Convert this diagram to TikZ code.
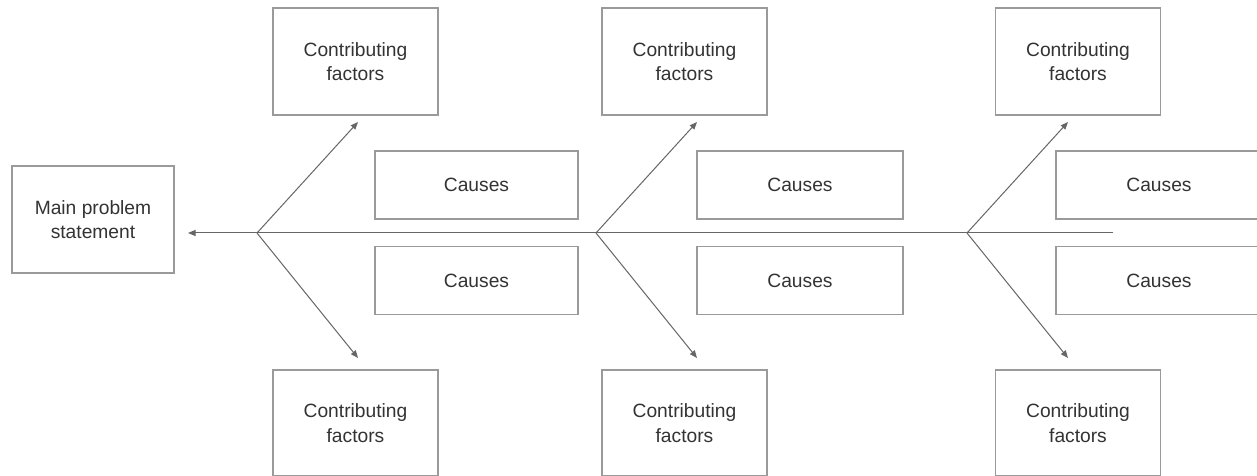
\documentclass[tikz,border=0pt]{standalone}
\usepackage{fontspec}
\setmainfont{Liberation Sans}
\usetikzlibrary{arrows.meta}
\definecolor{boxgray}{HTML}{9A9A9A}
\definecolor{linegray}{HTML}{666666}
\definecolor{textgray}{HTML}{333333}
\begin{document}
\begin{tikzpicture}[x=1bp,y=-1bp,
  box/.style={draw=boxgray, line width=1.3bp, minimum width=165bp, minimum height=107bp,
    align=center, inner sep=0pt, text=textgray, font=\fontsize{19.3}{24.5}\selectfont},
  causebox/.style={box, minimum width=203bp, minimum height=68bp},
  link/.style={draw=linegray, line width=1bp, -{Triangle[length=7.5bp,width=6bp]}}]
\useasboundingbox[fill=white] (0,0) rectangle (1257,476);
% boxes
\node[box, minimum width=162bp] (main) at (93,219.5) {Main problem\\statement};
\node[box] (t1) at (355.5,61.5) {Contributing\\factors};
\node[box] (t2) at (684.5,61.5) {Contributing\\factors};
\node[box] (t3) at (1078,61.5) {Contributing\\factors};
\node[box, minimum height=106bp] (b1) at (355.5,423) {Contributing\\factors};
\node[box, minimum height=106bp] (b2) at (684.5,423) {Contributing\\factors};
\node[box, minimum height=106bp] (b3) at (1078,423) {Contributing\\factors};
\node[causebox] (c1u) at (476.5,185) {Causes};
\node[causebox] (c1l) at (476.5,280.5) {Causes};
\node[causebox, minimum width=206bp] (c2u) at (800,185) {Causes};
\node[causebox, minimum width=206bp] (c2l) at (800,280.5) {Causes};
\node[causebox, minimum width=206bp] (c3u) at (1159,185) {Causes};
\node[causebox, minimum width=206bp] (c3l) at (1159,280.5) {Causes};
% spine
\coordinate (tail) at (1113,233);
\coordinate (tip) at (188,233);
\coordinate (v1) at (257,233);
\coordinate (v2) at (596,233);
\coordinate (v3) at (967,233);
\coordinate (u1) at (358,122);
\coordinate (u2) at (697,122);
\coordinate (u3) at (1068,122);
\coordinate (l1) at (358,358);
\coordinate (l2) at (697,358);
\coordinate (l3) at (1068,358);
\draw[link] (tail) -- (tip);
\draw[link] (v1) -- (u1);
\draw[link] (v1) -- (l1);
\draw[link] (v2) -- (u2);
\draw[link] (v2) -- (l2);
\draw[link] (v3) -- (u3);
\draw[link] (v3) -- (l3);
\end{tikzpicture}
\end{document}
